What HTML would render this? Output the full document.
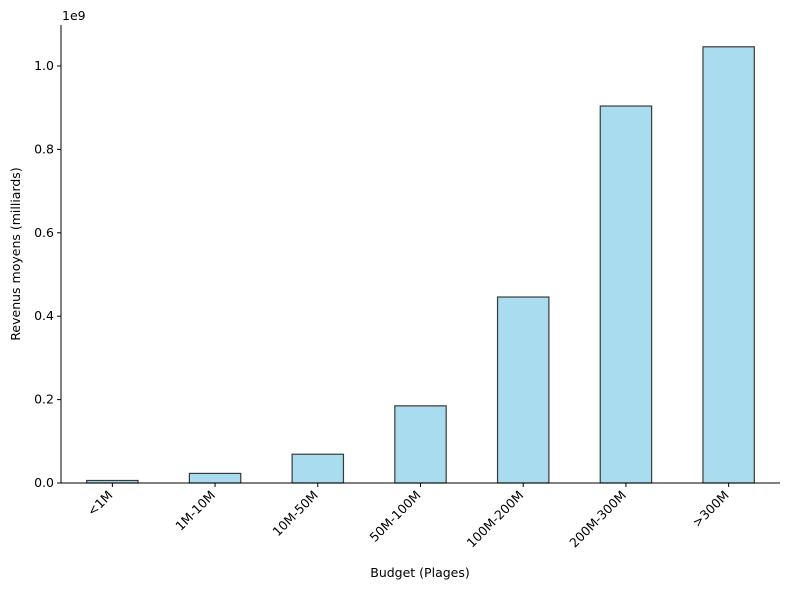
<!DOCTYPE html>
<html><head><meta charset="utf-8"><style>
body{margin:0;background:#fff;font-family:"Liberation Sans","DejaVu Sans",sans-serif;}
</style></head><body>
<svg id="chart" width="790" height="590" xmlns="http://www.w3.org/2000/svg" font-family="DejaVu Sans, Liberation Sans, sans-serif" font-size="12.5"></svg>
<script>
const categories=["<1M","1M-10M","10M-50M","50M-100M","100M-200M","200M-300M",">300M"];
const values=[0.006,0.023,0.069,0.185,0.446,0.904,1.046];
const yTicks=[0.0,0.2,0.4,0.6,0.8,1.0];
const NS="http://www.w3.org/2000/svg";
const svg=document.getElementById('chart');
const L=61,R=780,T=25,B=483;
const x=i=>L+(i+0.5)*(R-L)/categories.length;
const y=v=>B-v*417;
const bw=0.5*(R-L)/categories.length;
function mk(t,a,p){const e=document.createElementNS(NS,t);for(const k in a)e.setAttribute(k,a[k]);(p||svg).appendChild(e);return e;}
categories.forEach((c,i)=>{
 const r=mk('rect',{x:x(i)-bw/2,y:y(values[i]),width:bw,height:B-y(values[i]),fill:'#a8dcee',stroke:'#3a3a3a','stroke-width':1.2});
 
 
 mk('line',{x1:x(i),x2:x(i),y1:B,y2:B+4,stroke:'#000'});
 const ax=x(i)+1, ay=B+13;
 const t=mk('text',{x:ax,y:ay,'text-anchor':'end',transform:`rotate(-45 ${ax} ${ay})`});
 t.textContent=c;
 
 
});
yTicks.forEach(v=>{
 mk('line',{x1:L-4,x2:L,y1:y(v),y2:y(v),stroke:'#000'});
 const t=mk('text',{x:L-7,y:y(v)+4,'text-anchor':'end'});
 t.textContent=v.toFixed(1);
 
 
});
mk('line',{x1:L,x2:L,y1:T,y2:B,stroke:'#000'});
mk('line',{x1:L,x2:R,y1:B,y2:B,stroke:'#000'});
let t=mk('text',{x:62,y:20});t.textContent='1e9';

t=mk('text',{x:420,y:577,'text-anchor':'middle'});t.textContent='Budget (Plages)';

t=mk('text',{x:20,y:254,'text-anchor':'middle',transform:'rotate(-90 20 254)'});t.textContent='Revenus moyens (milliards)';

</script>
</body></html>
